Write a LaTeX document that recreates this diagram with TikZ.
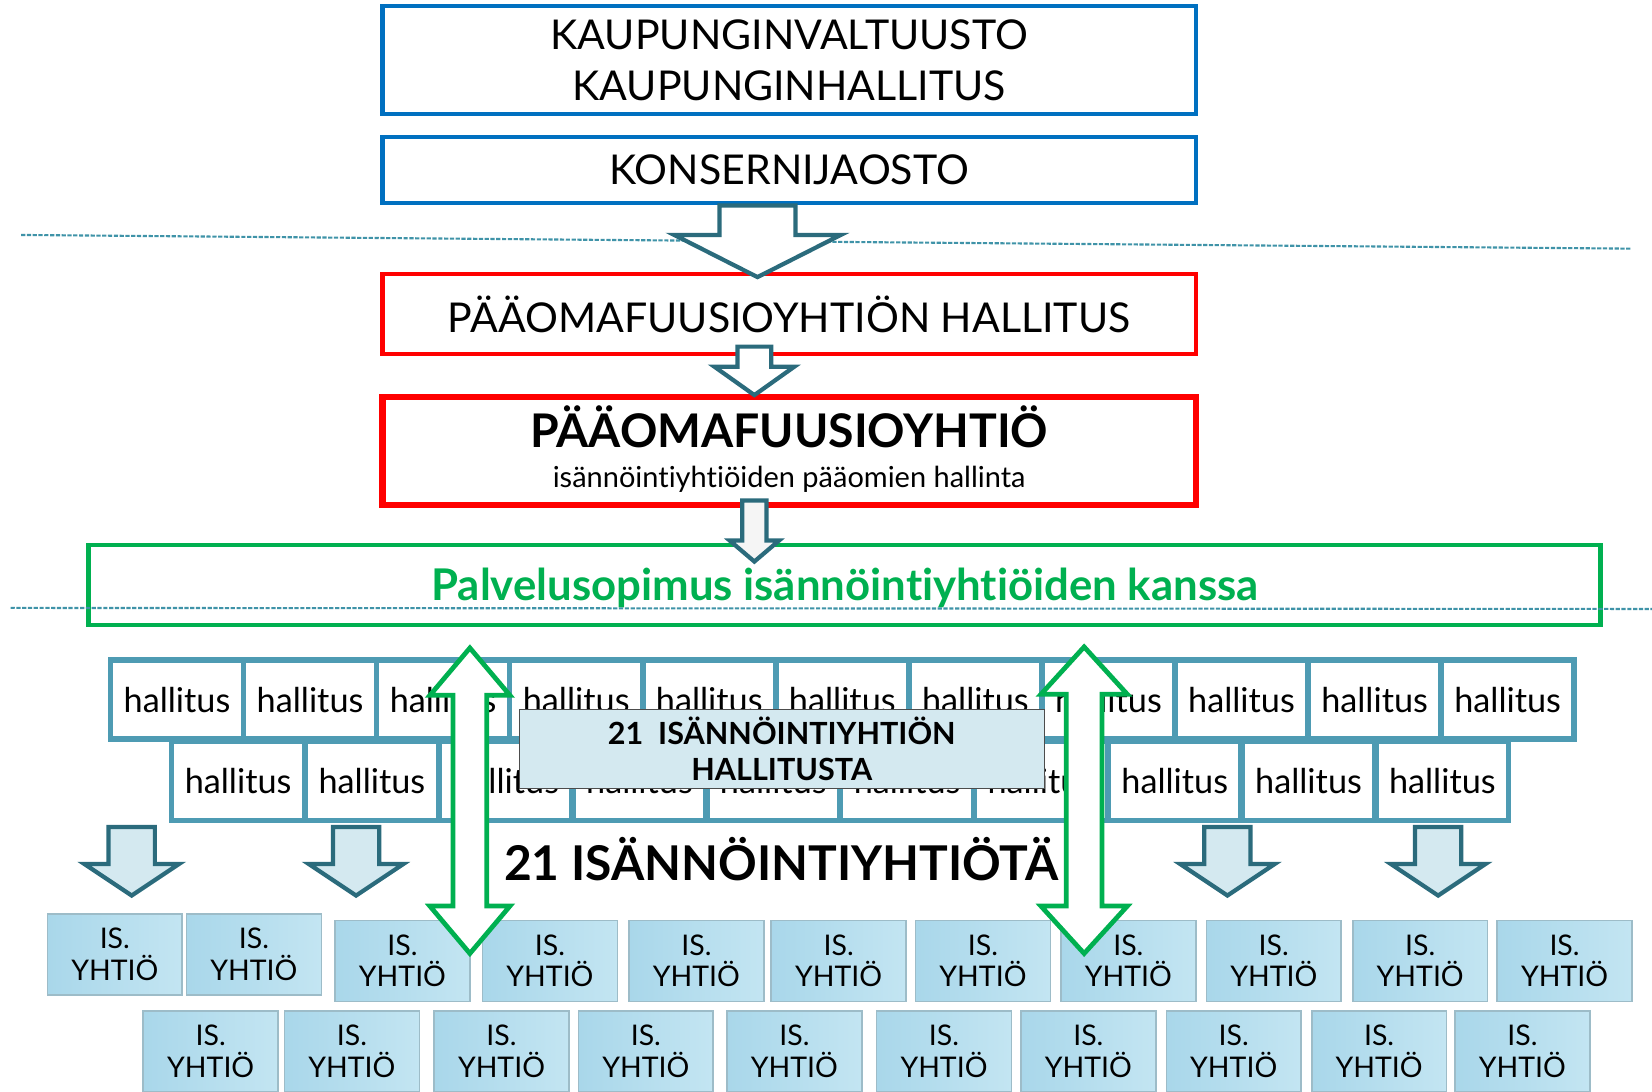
\documentclass[tikz,border=0pt]{standalone}
\usepackage{fontspec}
\setmainfont{Lato}[Ligatures=NoCommon]
\usetikzlibrary{calc}

\definecolor{kblue}{HTML}{0070C0}
\definecolor{kred}{HTML}{FF0000}
\definecolor{kgreen}{HTML}{00B050}
\definecolor{kteal}{HTML}{2B6B7C}
\definecolor{kdash}{HTML}{3F93A8}
\definecolor{hborder}{HTML}{4E9BB3}
\definecolor{isleft}{HTML}{A9D7EA}
\definecolor{isright}{HTML}{C3E5F2}
\definecolor{isedge}{HTML}{9DBCC8}
\definecolor{lightfill}{HTML}{D4E9F0}

\newcommand{\blockdown}[6]{%
  \filldraw[#1] let \p1=#2, \p2=#3 in
    (\x1-#4,\y1) -- (\x1-#4,\y2+#6) -- (\x1-#5,\y2+#6) -- (\x2,\y2)
    -- (\x1+#5,\y2+#6) -- (\x1+#4,\y2+#6) -- (\x1+#4,\y1) -- cycle;
}
\newcommand{\blockboth}[6]{%
  \filldraw[#1] let \p1=#2, \p2=#3 in
    (\x1,\y1) -- (\x1+#5,\y1-#6) -- (\x1+#4,\y1-#6) -- (\x1+#4,\y2+#6)
    -- (\x1+#5,\y2+#6) -- (\x2,\y2) -- (\x1-#5,\y2+#6) -- (\x1-#4,\y2+#6)
    -- (\x1-#4,\y1-#6) -- (\x1-#5,\y1-#6) -- cycle;
}

\begin{document}
\begin{tikzpicture}[x=1pt,y=-1pt,
  bluebox/.style={draw=kblue,line width=4pt,minimum width=772pt,inner sep=0pt,align=center,font=\fontsize{39}{48}\selectfont},
  redbox/.style={draw=kred,line width=4pt,minimum width=772pt,inner sep=0pt,font=\fontsize{39}{46}\selectfont},
  tealarrow/.style={draw=kteal,line width=4pt,line join=miter,fill=white},
  greenarrow/.style={draw=kgreen,line width=4.5pt,line join=miter,fill=white},
  sepline/.style={kdash,line width=2pt,dash pattern=on 4pt off 1.5pt},
  hallbox/.style={draw=hborder,line width=5pt,fill=white,minimum width=126pt,minimum height=75pt,inner sep=0pt,font=\fontsize{32.5}{38}\selectfont},
  isbox/.style={draw=isedge,line width=1.5pt,left color=isleft,right color=isright,minimum width=128pt,minimum height=77pt,inner sep=0pt,align=center,font=\fontsize{27}{30}\selectfont}]
\useasboundingbox (0,0) rectangle (1568,1036);

\draw[sepline] (20,223) -- (1548,236);

\node (kv) [bluebox,minimum height=102pt] at (749,57) {KAUPUNGINVALTUUSTO\\KAUPUNGINHALLITUS};
\node (konserni) [bluebox,minimum height=63pt] at (749,161.5) {KONSERNIJAOSTO};
\node (pfhall) [redbox,minimum height=76pt] at (749,298) {PÄÄOMAFUUSIOYHTIÖN HALLITUS};
\node (pfyhtio) [redbox,line width=6pt,minimum height=102pt] at (749,428) {};
\node (pfyt) [anchor=base,font=\fontsize{44}{50}\selectfont\bfseries] at (749,425) {PÄÄOMAFUUSIOYHTIÖ};
\node (pfys) [anchor=base,font=\fontsize{27.5}{32}\selectfont] at (749,463) {isännöintiyhtiöiden pääomien hallinta};
\node (palvelu) [draw=kgreen,line width=4pt,minimum width=1435pt,minimum height=76pt] at (801.5,555) {};
\node (palvelut) [anchor=base,text=kgreen,font=\fontsize{41.5}{46}\selectfont\bfseries] at (802,570) {Palvelusopimus isännöintiyhtiöiden kanssa};
\draw[sepline] (10,577) -- (1568,578);

\blockdown{tealarrow}{($(konserni.south)+(-30,0)$)}{($(pfhall.north)+(-30,5)$)}{36pt}{79pt}{40pt}
\blockdown{tealarrow}{($(pfhall.south)+(-33,-9)$)}{($(pfyhtio.north)+(-33,1)$)}{16pt}{38pt}{27pt}
\blockdown{tealarrow,fill=gray!8}{($(pfyhtio.south)+(-33,-7)$)}{($(palvelu.north)+(-85.5,18)$)}{11.5pt}{23.5pt}{20pt}

\foreach \i in {1,...,11}
  \node (hall1-\i) [hallbox] at ({168+126.3*(\i-1)},664) {hallitus};
\foreach \i in {1,...,10}
  \node (hall2-\i) [hallbox] at ({226+127*(\i-1)},741) {hallitus};

\node (hallinfo) [draw=gray!60!black,line width=1pt,fill=lightfill,minimum width=498pt,minimum height=75pt,inner sep=0pt,align=center,font=\fontsize{29}{34}\selectfont\bfseries] at (742,710.5) {21\ \ ISÄNNÖINTIYHTIÖN\\HALLITUSTA};
\node (isotitle) [anchor=base,font=\fontsize{45.5}{52}\selectfont\bfseries] at (741.5,836) {21 ISÄNNÖINTIYHTIÖTÄ};

\foreach \x/\y [count=\i] in {109/906,241/906,382/912,522/912,661/912,796/912,933/912,1071/912,1209/912,1348/912,1485/912}
  \node (isy1-\i) [isbox] at (\x,\y) {IS.\\YHTIÖ};
\foreach \x [count=\i] in {200,334,476,613,754,896,1033,1171,1309,1445}
  \node (isy2-\i) [isbox] at (\x,998) {IS.\\YHTIÖ};

\foreach \x [count=\i] in {125,338,1165,1365} {
  \coordinate (dtop\i) at (\x,785);
  \coordinate (dtip\i) at (\x,850);
  \blockdown{tealarrow,fill=lightfill}{(dtop\i)}{(dtip\i)}{22pt}{45pt}{30pt}
}

\coordinate (gtop1) at (446,615);
\coordinate (gbot1) at (446,905);
\coordinate (gtop2) at (1029,614);
\coordinate (gbot2) at (1029,905);
\blockboth{greenarrow}{(gtop1)}{(gbot1)}{16pt}{38pt}{45pt}
\blockboth{greenarrow}{(gtop2)}{(gbot2)}{17pt}{41pt}{45pt}
\end{tikzpicture}
\end{document}
